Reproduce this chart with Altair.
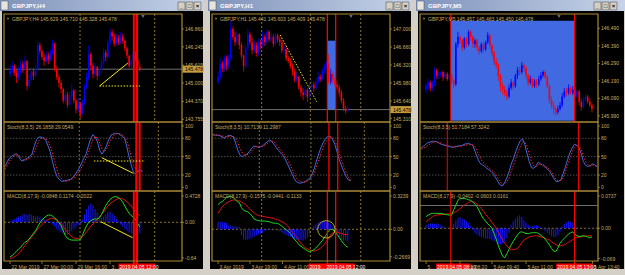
import altair as alt
import pandas as pd

# ---------------- DATA ----------------
# Window 1 : GBPJPY,H4
h4_open0 = 145.30
h4_close = [145.45, 145.60, 145.35, 145.20, 145.40, 145.65, 145.50, 145.75, 144.90, 145.10,
            145.40, 145.25, 145.50, 146.30, 146.10, 145.90, 145.75, 145.95, 145.80, 146.00,
            146.35, 145.50, 145.20, 145.00, 144.80, 144.40, 144.60, 144.25, 144.55, 144.75,
            144.40, 144.10, 144.30, 143.95, 144.30, 144.85, 145.20, 146.00, 145.60, 145.30,
            145.55, 145.25, 145.45, 145.70, 146.05, 145.90, 146.40, 146.75, 146.60, 146.35,
            146.55, 146.40, 146.60, 146.45, 146.20, 145.95, 145.60, 145.75, 146.05, 145.80,
            145.55, 145.478]
h4_high = [145.60, 145.75, 145.65, 145.45, 145.55, 145.80, 145.75, 145.95, 145.80, 145.30,
           145.55, 145.50, 145.65, 146.45, 146.40, 146.15, 146.00, 146.10, 146.05, 146.15,
           146.50, 146.40, 145.60, 145.30, 145.10, 144.85, 144.75, 144.70, 144.70, 144.95,
           144.80, 144.45, 144.50, 144.35, 144.45, 144.95, 145.35, 146.30, 146.05, 145.70,
           145.70, 145.60, 145.60, 145.85, 146.20, 146.15, 146.50, 146.88, 146.85, 146.70,
           146.70, 146.65, 146.75, 146.70, 146.50, 146.25, 145.95, 145.85, 146.15, 146.10,
           145.85, 145.65]
h4_low = [145.20, 145.35, 145.25, 145.00, 145.10, 145.30, 145.35, 145.45, 144.75, 144.85,
          145.05, 145.10, 145.20, 145.45, 146.00, 145.80, 145.60, 145.70, 145.65, 145.75,
          145.95, 145.40, 145.10, 144.85, 144.65, 144.30, 144.30, 144.15, 144.20, 144.45,
          144.30, 143.95, 144.00, 143.80, 143.90, 144.25, 144.80, 145.10, 145.45, 145.15,
          145.20, 145.10, 145.20, 145.35, 145.65, 145.75, 145.85, 146.30, 146.45, 146.25,
          146.30, 146.30, 146.35, 146.35, 146.10, 145.85, 145.50, 145.50, 145.70, 145.70,
          145.40, 145.40]
h4_stoch_main = [34, 42, 48, 51, 53, 55, 50, 44, 43, 46, 48, 50, 55, 68, 78, 82, 82, 80, 77, 68,
                 58, 42, 28, 18, 13, 10, 10, 11, 12, 13, 16, 20, 26, 32, 40, 48, 55, 68, 80, 86,
                 82, 74, 60, 54, 60, 68, 78, 85, 87, 88, 88, 86, 83, 80, 66, 50, 36, 24, 22, 27,
                 27, 26.19]
h4_stoch_signal = [30, 36, 43, 48, 51, 53, 53, 49, 45, 44, 46, 48, 51, 58, 67, 76, 80, 81, 79, 75,
                   67, 56, 42, 29, 19, 14, 11, 10, 11, 12, 14, 17, 21, 26, 33, 40, 48, 57, 68, 78,
                   83, 80, 72, 62, 58, 62, 70, 78, 84, 87, 88, 87, 85, 82, 76, 64, 50, 36, 28, 25,
                   26, 29.05]
h4_macd_main = [-0.62, -0.60, -0.56, -0.52, -0.48, -0.45, -0.40, -0.36, -0.34, -0.30,
                -0.25, -0.20, -0.15, -0.08, -0.01, 0.04, 0.08, 0.11, 0.13, 0.13,
                0.11, 0.08, 0.04, -0.01, -0.06, -0.15, -0.24, -0.29, -0.31, -0.32,
                -0.32, -0.32, -0.32, -0.31, -0.24, -0.14, -0.06, 0.00, 0.03, 0.05,
                0.06, 0.06, 0.08, 0.14, 0.22, 0.30, 0.36, 0.41, 0.44, 0.46,
                0.46, 0.44, 0.41, 0.36, 0.29, 0.22, 0.16, 0.12, 0.09, 0.05,
                -0.02, -0.0848]
h4_macd_signal = [-0.65, -0.64, -0.62, -0.60, -0.57, -0.52, -0.47, -0.42, -0.37, -0.32,
                  -0.27, -0.22, -0.17, -0.12, -0.08, -0.04, 0.00, 0.03, 0.05, 0.07,
                  0.07, 0.06, 0.04, 0.01, -0.03, -0.08, -0.13, -0.18, -0.22, -0.26,
                  -0.28, -0.29, -0.29, -0.28, -0.26, -0.22, -0.17, -0.12, -0.07, -0.03,
                  0.01, 0.05, 0.09, 0.14, 0.19, 0.24, 0.29, 0.33, 0.36, 0.39,
                  0.41, 0.43, 0.43, 0.42, 0.40, 0.37, 0.33, 0.29, 0.24, 0.20,
                  0.15, 0.1174]
h4_macd_hist = [0.02, 0.04, 0.06, 0.08, 0.10, 0.11, 0.14, 0.15, 0.13, 0.15,
                0.14, 0.12, 0.10, 0.12, 0.09, 0.07, 0.05, 0.04, 0.02, 0.01,
                -0.04, -0.08, -0.12, -0.15, -0.18, -0.20, -0.22, -0.23, -0.20, -0.16,
                -0.12, -0.08, -0.05, -0.02, 0.05, 0.14, 0.24, 0.30, 0.34, 0.30,
                0.24, 0.18, 0.12, 0.08, 0.10, 0.14, 0.18, 0.19, 0.16, 0.12,
                0.06, 0.02, -0.04, -0.08, -0.12, -0.15, -0.18, -0.20, -0.22, -0.24,
                -0.22, -0.2022]

# Window 2 : GBPJPY,H1
h1_open0 = 146.00
h1_close = [146.10, 146.35, 146.25, 146.45, 146.30, 146.45, 147.00, 146.85, 146.75, 146.90,
            146.70, 146.50, 146.30, 146.65, 146.90, 146.75, 146.60, 146.70, 146.55, 146.75,
            146.70, 146.85, 146.75, 146.95, 146.80, 146.85, 146.72, 146.88, 146.80, 146.75,
            146.60, 146.62, 146.45, 146.40, 146.30, 146.20, 146.05, 146.10, 145.90, 145.80,
            145.75, 145.85, 145.72, 145.90, 145.95, 145.88, 146.00, 146.10, 146.05, 146.20,
            146.30, 146.35, 146.00, 146.15, 146.05, 145.95, 145.90, 145.80, 145.65, 145.50,
            145.45, 145.478]
h1_high = [146.20, 146.45, 146.40, 146.50, 146.50, 146.52, 147.17, 147.05, 146.95, 146.96,
           146.92, 146.75, 146.52, 146.70, 147.00, 146.95, 146.82, 146.78, 146.75, 146.82,
           146.80, 146.95, 146.90, 147.00, 146.98, 146.92, 146.90, 146.93, 146.92, 146.86,
           146.80, 146.70, 146.67, 146.50, 146.45, 146.35, 146.25, 146.18, 146.12, 145.95,
           145.88, 145.92, 145.88, 145.98, 146.04, 146.00, 146.06, 146.20, 146.15, 146.26,
           146.35, 146.40, 146.52, 146.25, 146.20, 146.08, 146.02, 145.95, 145.85, 145.70,
           145.55, 145.55]
h1_low = [145.95, 146.05, 146.18, 146.20, 146.22, 146.25, 146.40, 146.80, 146.68, 146.70,
          146.62, 146.45, 146.20, 146.25, 146.60, 146.70, 146.52, 146.55, 146.48, 146.50,
          146.62, 146.65, 146.68, 146.70, 146.75, 146.74, 146.66, 146.70, 146.74, 146.68,
          146.55, 146.52, 146.40, 146.35, 146.25, 146.12, 146.00, 146.00, 145.85, 145.72,
          145.66, 145.70, 145.62, 145.70, 145.85, 145.82, 145.85, 145.96, 146.00, 146.02,
          146.15, 146.25, 145.95, 145.95, 145.98, 145.90, 145.85, 145.72, 145.60, 145.45,
          145.40, 145.42]
h1_stoch_main = [86, 85, 85, 84, 82, 80, 83, 85, 84, 82, 72, 60, 52, 50, 52, 54, 58, 63, 67, 67,
                 65, 66, 68, 71, 74, 77, 75, 70, 65, 60, 56, 52, 46, 38, 30, 22, 14, 9, 7, 7,
                 8, 10, 12, 16, 22, 32, 45, 56, 66, 74, 80, 83, 83, 78, 70, 58, 45, 35, 26, 18,
                 12, 10.71]
h1_stoch_signal = [85, 86, 85, 85, 84, 82, 82, 83, 84, 83, 79, 72, 63, 56, 53, 53, 55, 59, 63, 66,
                   67, 66, 67, 69, 71, 74, 76, 74, 70, 65, 60, 56, 51, 45, 38, 30, 22, 15, 11, 9,
                   8, 9, 11, 14, 18, 25, 35, 46, 57, 66, 74, 79, 82, 81, 76, 67, 55, 44, 34, 25,
                   17, 11.30]
h1_macd_main = [0.24, 0.26, 0.27, 0.29, 0.31, 0.32, 0.32, 0.31, 0.29, 0.27,
                0.26, 0.21, 0.185, 0.175, 0.17, 0.15, 0.13, 0.10, 0.09, 0.085,
                0.08, 0.08, 0.08, 0.078, 0.074, 0.066, 0.06, 0.058, 0.058, 0.045,
                0.03, 0.012, -0.005, -0.02, -0.04, -0.07, -0.10, -0.12, -0.15, -0.165,
                -0.18, -0.195, -0.21, -0.217, -0.21, -0.20, -0.18, -0.16, -0.135, -0.11,
                -0.08, -0.05, -0.015, 0.0, -0.005, -0.02, -0.05, -0.08, -0.11, -0.14,
                -0.16, -0.175]
h1_macd_signal = [0.155, 0.19, 0.22, 0.24, 0.255, 0.268, 0.277, 0.284, 0.285, 0.282,
                  0.276, 0.266, 0.252, 0.238, 0.215, 0.195, 0.178, 0.16, 0.142, 0.135,
                  0.13, 0.126, 0.122, 0.118, 0.114, 0.11, 0.107, 0.10, 0.093, 0.084,
                  0.074, 0.062, 0.048, 0.025, 0.0, -0.03, -0.055, -0.08, -0.11, -0.135,
                  -0.16, -0.178, -0.192, -0.201, -0.207, -0.211, -0.207, -0.198, -0.186, -0.168,
                  -0.146, -0.12, -0.085, -0.05, -0.035, -0.025, -0.025, -0.035, -0.04, -0.048,
                  -0.055, -0.0441]
h1_macd_hist = [0.07, 0.075, 0.07, 0.065, 0.06, 0.04, 0.035, 0.03, 0.03, 0.025,
                0.02, -0.06, -0.10, -0.105, -0.10, -0.09, -0.08, -0.07, -0.06, -0.05,
                -0.04, -0.03, -0.015, -0.01, -0.005, -0.008, -0.01, -0.012, -0.015, -0.02,
                -0.03, -0.045, -0.055, -0.065, -0.075, -0.085, -0.095, -0.10, -0.105, -0.11,
                -0.11, -0.10, -0.08, -0.05, 0.01, 0.03, 0.05, 0.065, 0.075, 0.08,
                0.08, 0.075, 0.065, 0.05, 0.03, -0.02, -0.05, -0.08, -0.10, -0.11,
                -0.11, -0.1133]

# Window 3 : GBPJPY,M5
m5_open0 = 146.14
m5_close = [146.16, 146.18, 146.15, 146.17, 146.25, 146.22, 146.22, 146.24, 146.21, 146.23,
            146.20, 146.22, 146.19, 146.17, 146.40, 146.44, 146.42, 146.38, 146.43, 146.40,
            146.47, 146.44, 146.40, 146.42, 146.38, 146.36, 146.40, 146.37, 146.41, 146.45,
            146.39, 146.35, 146.30, 146.28, 146.22, 146.16, 146.14, 146.12, 146.10, 146.15,
            146.18, 146.16, 146.22, 146.25, 146.24, 146.28, 146.26, 146.22, 146.18, 146.20,
            146.16, 146.19, 146.17, 146.20, 146.22, 146.24, 146.21, 146.16, 146.08, 146.05,
            146.03, 146.01, 146.03, 146.05, 146.10, 146.13, 146.12, 146.15, 146.12, 146.14,
            146.10, 146.13, 146.07, 146.04, 146.08, 146.10, 146.07, 146.05, 146.03]
m5_high = [146.18, 146.20, 146.19, 146.19, 146.27, 146.26, 146.24, 146.25, 146.25, 146.24,
           146.24, 146.23, 146.23, 146.20, 146.41, 146.47, 146.45, 146.43, 146.44, 146.44,
           146.48, 146.48, 146.45, 146.43, 146.43, 146.39, 146.41, 146.41, 146.42, 146.47,
           146.46, 146.40, 146.36, 146.32, 146.29, 146.23, 146.18, 146.16, 146.14, 146.17,
           146.20, 146.19, 146.23, 146.27, 146.27, 146.30, 146.29, 146.27, 146.23, 146.22,
           146.21, 146.20, 146.20, 146.22, 146.24, 146.25, 146.25, 146.22, 146.17, 146.10,
           146.07, 146.04, 146.05, 146.07, 146.12, 146.15, 146.15, 146.17, 146.16, 146.16,
           146.15, 146.14, 146.14, 146.09, 146.10, 146.12, 146.11, 146.09, 146.06]
m5_low = [146.12, 146.14, 146.13, 146.13, 146.16, 146.20, 146.20, 146.21, 146.19, 146.20,
          146.19, 146.19, 146.17, 146.15, 146.16, 146.38, 146.40, 146.36, 146.37, 146.38,
          146.39, 146.42, 146.38, 146.38, 146.36, 146.34, 146.35, 146.35, 146.36, 146.40,
          146.37, 146.33, 146.28, 146.26, 146.19, 146.13, 146.11, 146.10, 146.08, 146.09,
          146.14, 146.14, 146.15, 146.20, 146.22, 146.23, 146.24, 146.20, 146.16, 146.17,
          146.15, 146.15, 146.15, 146.16, 146.19, 146.21, 146.20, 146.15, 146.06, 146.03,
          146.00, 145.99, 146.00, 146.02, 146.04, 146.09, 146.10, 146.11, 146.11, 146.11,
          146.09, 146.09, 146.05, 146.02, 146.03, 146.07, 146.06, 146.04, 146.01]
m5_stoch_main = [64, 67, 70, 73, 74, 75, 75, 74, 72, 70, 69, 68, 67, 66, 65, 66, 67, 68, 68, 70,
                 71, 72, 70, 68, 58, 48, 40, 37, 35, 31, 29, 26, 22, 16, 10, 4, 2, 7, 15, 25,
                 38, 47, 58, 68, 76, 79, 70, 55, 42, 32, 31, 35, 41, 38, 36, 33, 30, 26, 20, 14,
                 9, 10, 12, 22, 33, 45, 56, 64, 70, 69, 65, 55, 42, 36, 34, 35, 38, 37, 33]
m5_stoch_signal = [62, 64, 66, 69, 71, 73, 74, 74, 73, 72, 70, 69, 68, 67, 66, 66, 66, 67, 67, 68,
                   69, 70, 70, 69, 65, 58, 50, 43, 39, 35, 32, 29, 26, 21, 15, 9, 5, 5, 9, 16,
                   26, 36, 47, 57, 66, 74, 74, 66, 54, 42, 35, 33, 37, 38, 37, 35, 32, 29, 24, 18,
                   12, 10, 11, 16, 25, 36, 47, 57, 65, 69, 68, 62, 51, 42, 37, 35, 36, 37, 35]
m5_macd_main = [0.027, 0.030, 0.033, 0.034, 0.034, 0.034, 0.034, 0.034, 0.033, 0.032,
                0.031, 0.030, 0.030, 0.042, 0.053, 0.064, 0.068, 0.068, 0.068, 0.067,
                0.065, 0.064, 0.060, 0.055, 0.049, 0.040, 0.030, 0.022, 0.016, 0.010,
                0.006, 0.000, -0.012, -0.025, -0.040, -0.052, -0.064, -0.067, -0.058, -0.048,
                -0.038, -0.030, -0.022, -0.015, -0.009, -0.008, -0.010, -0.012, -0.012, -0.011,
                -0.010, -0.010, -0.010, -0.012, -0.016, -0.019, -0.025, -0.031, -0.038, -0.046,
                -0.052, -0.053, -0.045, -0.034, -0.028, -0.023, -0.018, -0.013, -0.010, -0.008,
                -0.014, -0.017, -0.019, -0.018, -0.017, -0.018, -0.020, -0.021, -0.020]
m5_macd_signal = [0.015, 0.019, 0.023, 0.027, 0.029, 0.030, 0.031, 0.031, 0.032, 0.032,
                  0.033, 0.033, 0.034, 0.036, 0.038, 0.041, 0.045, 0.049, 0.053, 0.056,
                  0.059, 0.062, 0.061, 0.059, 0.055, 0.050, 0.045, 0.039, 0.032, 0.026,
                  0.020, 0.013, 0.007, 0.000, -0.010, -0.018, -0.027, -0.034, -0.040, -0.045,
                  -0.049, -0.049, -0.048, -0.046, -0.040, -0.033, -0.027, -0.024, -0.021, -0.019,
                  -0.018, -0.017, -0.017, -0.018, -0.020, -0.021, -0.023, -0.025, -0.027, -0.031,
                  -0.034, -0.037, -0.040, -0.040, -0.039, -0.038, -0.035, -0.032, -0.029, -0.026,
                  -0.023, -0.021, -0.020, -0.019, -0.018, -0.018, -0.017, -0.017, -0.017]
m5_macd_hist = [0.008, 0.010, 0.011, 0.011, 0.010, 0.011, 0.009, 0.008, 0.006, 0.003,
                0.001, -0.003, -0.002, 0.010, 0.018, 0.024, 0.025, 0.022, 0.020, 0.016,
                0.012, 0.006, -0.004, -0.010, -0.014, -0.018, -0.020, -0.022, -0.024, -0.024,
                -0.025, -0.026, -0.029, -0.032, -0.036, -0.037, -0.035, -0.030, -0.022, -0.010,
                0.008, 0.016, 0.022, 0.027, 0.030, 0.026, 0.018, 0.012, 0.008, 0.004,
                0.004, 0.006, 0.007, 0.005, 0.002, -0.002, -0.006, -0.010, -0.014, -0.018,
                -0.020, -0.020, -0.016, -0.008, 0.004, 0.010, 0.014, 0.016, 0.015, 0.012,
                0.006, 0.002, 0.001, 0.000, 0.001, 0.000, -0.001, -0.002, -0.001]

# Axis label values
h4_price_ticks = [143.755, 144.370, 145.000, 145.615, 146.245, 146.860]
h1_price_ticks = [145.310, 145.640, 145.980, 146.320, 146.660, 147.000]
m5_price_ticks = [145.990, 146.090, 146.190, 146.290, 146.390, 146.490]
stoch_ticks = [0, 20, 50, 80, 100]
stoch_levels = [20, 50, 80]
h4_macd_ticks = [0.4728, 0.0, -0.64]
h1_macd_ticks = [0.3239, 0.0, -0.2669]
m5_macd_ticks = [0.0737, 0.0, -0.069]

# Time labels (bar index, text, visible width limit in px or 0 for none)
h4_time_idx = [0, 15, 31, 47]
h4_time_txt = ["22 Mar 2019", "27 Mar 00:00", "29 Mar 16:00", "3 Apr 08:00"]
h4_time_lim = [0, 0, 0, 8]
h1_time_idx = [0, 15, 30.3]
h1_time_txt = ["3 Apr 2019", "3 Apr 19:00", "4 Apr 11:00"]
h1_time_lim = [0, 0, 26]
m5_time_idx = [0, 16, 31, 47, 78.3]
m5_time_txt = ["5 Apr 07:00", "5 Apr 08:20", "5 Apr 09:40", "5 Apr 11:00", "5 Apr 13:40"]
m5_time_lim = [9, 0, 0, 0, 0]

BID = 145.478

# ---------------- STYLE ----------------
FONT = "Liberation Sans"
GREY_BG = "#d4d0c8"
GOLD = "#a88a36"
TXT = "#c8ac64"
SEP = "#b09030"
LVL = "#5e5e5e"
BULL = "#0000ff"
BEAR = "#ff0000"
ST_MAIN = "#4169e1"
ST_SIG = "#ff2020"
M_MAIN = "#1ed81e"
M_SIG = "#e01010"
M_HIST = "#1414f0"
YEL = "#f2e81a"
RBLUE = "#4169e1"
FS = 5

W, HP, HS, HM = 178, 108, 69, 70
XDOM = [-0.5, 78.5]
ONE = pd.DataFrame({"k": [0]})


def X(f="i"):
    return alt.X(f"{f}:Q", scale=alt.Scale(domain=XDOM, nice=False, zero=False), axis=None)


def Y(f, dom):
    return alt.Y(f"{f}:Q", scale=alt.Scale(domain=dom, nice=False, zero=False), axis=None)


def rect(x1, x2, y1, y2, **mk):
    return alt.Chart(ONE).mark_rect(**mk).encode(
        x=alt.value(x1), x2=alt.value(x2), y=alt.value(y1), y2=alt.value(y2))


def label(txt, x, y, **mk):
    base = dict(align="left", baseline="middle", font=FONT, fontSize=FS, color=TXT)
    base.update(mk)
    return alt.Chart(ONE).mark_text(text=txt, **base).encode(x=alt.value(x), y=alt.value(y))


def vrules(idx, dom, h, **mk):
    df = pd.DataFrame({"i": idx})
    return alt.Chart(df).mark_rule(**mk).encode(x=X(), y=alt.value(0), y2=alt.value(h))


def hrules(vals, dom, **mk):
    df = pd.DataFrame({"v": vals})
    return alt.Chart(df).mark_rule(**mk).encode(y=Y("v", dom), x=alt.value(0), x2=alt.value(W))


def yaxis_labels(vals, txts, dom):
    df = pd.DataFrame({"v": vals, "t": txts})
    ticks = alt.Chart(df).mark_rule(color=GOLD, strokeWidth=0.8).encode(
        y=Y("v", dom), x=alt.value(W), x2=alt.value(W + 2))
    txt = alt.Chart(df).mark_text(align="left", baseline="middle", font=FONT, fontSize=FS,
                                  color=TXT).encode(y=Y("v", dom), x=alt.value(W + 3), text="t:N")
    return [ticks, txt]


def segs(points, dom, **mk):
    rows = []
    for s, pts in enumerate(points):
        for (i, v) in pts:
            rows.append({"s": s, "i": i, "v": v})
    df = pd.DataFrame(rows)
    return alt.Chart(df).mark_line(**mk).encode(x=X(), y=Y("v", dom), detail="s:N", order="i:Q")


def window(cfg, last=False):
    rx = W + (27 if last else 22)
    n = len(cfg["close"])
    assert len(cfg["high"]) == n and len(cfg["low"]) == n
    opens = [cfg["open0"]] + cfg["close"][:-1]
    df = pd.DataFrame({"i": list(range(n)), "o": opens, "h": cfg["high"],
                       "l": cfg["low"], "c": cfg["close"]})
    df["d"] = ["up" if c >= o else "down" for o, c in zip(df["o"], df["c"])]
    pdom = cfg["pdom"]
    col = alt.Color("d:N", scale=alt.Scale(domain=["up", "down"], range=[BULL, BEAR]), legend=None)

    L = []
    # window chrome
    L.append(rect(-4, rx, -14, -3, fill=alt.Gradient(
        gradient="linear", x1=0, x2=1, y1=0, y2=0,
        stops=[alt.GradientStop(color="#7f93ba", offset=0),
               alt.GradientStop(color="#c6d3e8", offset=1)])))
    L.append(rect(-3, 4, -13, -4, fill="#e8e4d8", stroke="#405070", strokeWidth=0.5))
    L.append(label(cfg["title"], 8, -8.5, color="#ffffff", fontSize=6, fontWeight="bold"))
    for k, g in enumerate(["_", "\u25a1", "\u00d7"]):
        bx = W - 4 + k * 8
        L.append(rect(bx, bx + 7, -12, -4, fill="#d4d0c8", stroke="#404040", strokeWidth=0.5))
        L.append(label(g, bx + 3.5, -8, align="center", color="#000000", fontSize=6,
                       fontWeight="bold"))
    L.append(rect(-2, rx - 1, -3, HP + HS + HM + 8, fill="#000000"))

    # blue rectangle object
    if cfg.get("brect"):
        a, b, y1, y2 = cfg["brect"]
        bdf = pd.DataFrame({"a": [a], "b": [b], "y1": [y1], "y2": [y2]})
        L.append(alt.Chart(bdf).mark_rect(color=RBLUE).encode(
            x=X("a"), x2="b:Q", y=Y("y1", pdom), y2="y2:Q"))
    if cfg["seps"]:
        L.append(vrules(cfg["seps"], pdom, HP, color=SEP, strokeDash=[2, 2], strokeWidth=0.8))
    L.append(hrules([BID], pdom, color="#8a8a8a", strokeWidth=0.8))
    L.append(alt.Chart(df).mark_rule(strokeWidth=0.8).encode(
        x=X(), y=Y("l", pdom), y2="h:Q", color=col))
    L.append(alt.Chart(df).mark_bar(size=1.6).encode(
        x=X(), y=Y("o", pdom), y2="c:Q", color=col))
    L.append(vrules(cfg["vlines"], pdom, HP, color="#ff0000", strokeWidth=cfg["vw"]))
    for pts, dash in cfg.get("pyel", []):
        mk = dict(color=YEL, strokeWidth=1)
        if dash:
            mk["strokeDash"] = [1.5, 1.5]
        L.append(segs([pts], pdom, **mk))
    L.append(alt.Chart(ONE).mark_point(shape="triangle-down", filled=True, size=10,
                                       color=GOLD).encode(x=alt.value(4), y=alt.value(5)))
    L.append(label(cfg["phead"], 8, 5))
    L.append(alt.Chart(pd.DataFrame({"i": [62.5]})).mark_point(
        shape="triangle-down", filled=True, size=12, color="#9a9a9a").encode(
        x=X(), y=alt.value(2.5)))
    L += yaxis_labels(cfg["pticks"], [f"{v:.3f}" for v in cfg["pticks"]], pdom)
    if pdom[0] < BID < pdom[1]:
        bdf = pd.DataFrame({"v": [BID], "t": [f"{BID:.3f}"]})
        L.append(alt.Chart(bdf).mark_tick(thickness=7, size=21, color="#c89c3c", opacity=1).encode(
            y=Y("v", pdom), x=alt.value(W + 11)))
        L.append(alt.Chart(bdf).mark_text(align="left", baseline="middle", font=FONT,
                                          fontSize=FS, color="#000000").encode(
            y=Y("v", pdom), x=alt.value(W + 3), text="t:N"))
    L.append(rect(0, W, 0, HP, fill=None, stroke=GOLD, strokeWidth=1.2))
    price = alt.layer(*L).properties(width=W, height=HP)

    # ---------- stochastic ----------
    sdom = [-6, 106.5]
    S = []
    sdf = pd.DataFrame({"i": list(range(n)), "m": cfg["st_main"], "s": cfg["st_sig"]})
    S.append(hrules(stoch_levels, sdom, color=LVL, strokeDash=[1.5, 1.5], strokeWidth=0.8))
    if cfg["seps"]:
        S.append(vrules(cfg["seps"], sdom, HS, color=SEP, strokeDash=[2, 2], strokeWidth=0.8))
    S.append(alt.Chart(sdf).mark_line(color=ST_MAIN, strokeWidth=1).encode(x=X(), y=Y("m", sdom)))
    S.append(alt.Chart(sdf).mark_line(color=ST_SIG, strokeWidth=1, strokeDash=[1.5, 1.5]).encode(
        x=X(), y=Y("s", sdom)))
    S.append(vrules(cfg["vlines"], sdom, HS, color="#ff0000", strokeWidth=cfg["vw"]))
    for pts, dash in cfg.get("syel", []):
        mk = dict(color=YEL, strokeWidth=1)
        if dash:
            mk["strokeDash"] = [1.5, 1.5]
        S.append(segs([pts], sdom, **mk))
    S.append(label(cfg["shead"], 3, 5))
    S += yaxis_labels(stoch_ticks, [str(v) for v in stoch_ticks], sdom)
    S.append(rect(0, W, 0, HS, fill=None, stroke=GOLD, strokeWidth=1.2))
    stoch = alt.layer(*S).properties(width=W, height=HS)

    # ---------- MACD ----------
    mdom = cfg["mdom"]
    M = []
    mdf = pd.DataFrame({"i": list(range(n)), "m": cfg["m_main"], "s": cfg["m_sig"],
                        "h": cfg["m_hist"], "z": [0.0] * n})
    if cfg["seps"]:
        M.append(vrules(cfg["seps"], mdom, HM, color=SEP, strokeDash=[2, 2], strokeWidth=0.8))
    M.append(hrules([0.0], mdom, color=SEP, strokeDash=[2, 2], strokeWidth=0.8))
    M.append(alt.Chart(mdf).mark_bar(size=1.1, color=M_HIST).encode(x=X(), y=Y("h", mdom), y2="z:Q"))
    M.append(alt.Chart(mdf).mark_line(color=M_SIG, strokeWidth=1).encode(x=X(), y=Y("s", mdom)))
    M.append(alt.Chart(mdf).mark_line(color=M_MAIN, strokeWidth=1).encode(x=X(), y=Y("m", mdom)))
    M.append(vrules(cfg["vlines"], mdom, HM + 8, color="#ff0000", strokeWidth=cfg["vw"]))
    for pts, dash in cfg.get("myel", []):
        M.append(segs([pts], mdom, color=YEL, strokeWidth=1))
    if cfg.get("circle"):
        ci, cv = cfg["circle"]
        M.append(alt.Chart(pd.DataFrame({"i": [ci], "v": [cv]})).mark_point(
            shape="circle", filled=False, size=300, color=YEL, strokeWidth=1).encode(
            x=X(), y=Y("v", mdom)))
    M.append(label(cfg["mhead"], 3, 5))
    M += yaxis_labels(cfg["mticks"], ["0.00" if v == 0 else str(v) for v in cfg["mticks"]], mdom)
    # time axis
    tdf = pd.DataFrame({"i": cfg["t_idx"], "t": cfg["t_txt"]})
    M.append(alt.Chart(tdf).mark_rule(color=GOLD, strokeWidth=0.8).encode(
        x=X(), y=alt.value(HM), y2=alt.value(HM + 3)))
    for k in range(len(tdf)):
        mk = dict(align="left", baseline="middle", font=FONT, fontSize=FS, color=TXT, dx=1.5)
        if cfg["t_lim"][k]:
            mk.update(limit=cfg["t_lim"][k], ellipsis="")
        M.append(alt.Chart(tdf.iloc[[k]]).mark_text(**mk).encode(
            x=X(), y=alt.value(HM + 5.5), text="t:N"))
    for (a, b, t, lim) in cfg["boxes"]:
        one = pd.DataFrame({"a": [a], "b": [b], "t": [t]})
        M.append(alt.Chart(one).mark_rect(color="#ff0000").encode(
            x=X("a"), x2="b:Q", y=alt.value(HM + 2.5), y2=alt.value(HM + 8.5)))
        mk = dict(align="left", baseline="middle", font=FONT, fontSize=FS, color="#ffffff", dx=1)
        if lim:
            mk.update(limit=lim, ellipsis="")
        M.append(alt.Chart(one).mark_text(**mk).encode(
            x=X("a"), y=alt.value(HM + 5.6), text="t:N"))
    M.append(rect(0, W, 0, HM, fill=None, stroke=GOLD, strokeWidth=1.2))
    M.append(rect(-4, rx, HM + 8, HM + 14, fill=GREY_BG))
    macd = alt.layer(*M).properties(width=W, height=HM)
    return price, stoch, macd


w1 = dict(title="GBPJPY,H4", open0=h4_open0, close=h4_close, high=h4_high, low=h4_low,
          pdom=[143.662, 147.376], pticks=h4_price_ticks,
          phead="GBPJPY,H4  145.629 145.710 145.328 145.478",
          seps=[32.9, 68.0], vlines=[58.2, 59.7], vw=2,
          pyel=[([(42.1, 144.90), (55.4, 145.69)], False), ([(42.1, 144.90), (61.2, 144.90)], True)],
          st_main=h4_stoch_main, st_sig=h4_stoch_signal,
          syel=[([(42.9, 48.3), (56.9, 22.8)], False), ([(39.4, 42.9), (62.1, 42.9)], True)],
          shead="Stoch(8,3,5) 26.1858 29.0549",
          mdom=[-0.696, 0.563], mticks=h4_macd_ticks, m_main=h4_macd_main, m_sig=h4_macd_signal,
          m_hist=h4_macd_hist, myel=[([(42.6, 0.011), (57.6, -0.277)], False)],
          mhead="MACD(8,17,9) -0.0848 0.1174 -0.2022",
          t_idx=h4_time_idx, t_txt=h4_time_txt, t_lim=h4_time_lim,
          boxes=[(51.0, 68.3, "2019.04.05 12:00", 0)])

w2 = dict(title="GBPJPY,H1", open0=h1_open0, close=h1_close, high=h1_high, low=h1_low,
          pdom=[145.244, 147.284], pticks=h1_price_ticks,
          phead="GBPJPY,H1  145.441 145.603 145.409 145.478",
          seps=[20.5, 43.4, 67.1], vlines=[51.4, 55.3], vw=1.3,
          brect=(51.4, 55.3, 145.478, 146.78),
          pyel=[([(29.2, 146.887), (46.4, 145.626)], True)],
          st_main=h1_stoch_main, st_sig=h1_stoch_signal, syel=[],
          shead="Stoch(8,3,5) 10.7139 11.2987",
          mdom=[-0.308, 0.372], mticks=h1_macd_ticks, m_main=h1_macd_main, m_sig=h1_macd_signal,
          m_hist=h1_macd_hist, circle=(50.9, 0.0),
          mhead="MACD(8,17,9) -0.1575 -0.0441 -0.1133",
          t_idx=h1_time_idx, t_txt=h1_time_txt, t_lim=h1_time_lim,
          boxes=[(42.5, 60.7, "2019.04.05 08:00", 17), (50.5, 64.3, "2019.04.05 12:00", 0)])

w3 = dict(title="GBPJPY,M5", open0=m5_open0, close=m5_close, high=m5_high, low=m5_low,
          pdom=[145.955, 146.572], pticks=m5_price_ticks,
          phead="GBPJPY,M5  145.457 145.483 145.450 145.478",
          seps=[], vlines=[11.6, 69.8], vw=1,
          brect=(11.6, 69.8, 145.962, 146.533),
          st_main=m5_stoch_main, st_sig=m5_stoch_signal, syel=[],
          shead="Stoch(8,3,5) 51.7184 57.3242",
          mdom=[-0.0747, 0.0852], mticks=m5_macd_ticks, m_main=m5_macd_main, m_sig=m5_macd_signal,
          m_hist=m5_macd_hist,
          mhead="MACD(8,17,9) -0.0402 -0.0603 0.0161",
          t_idx=m5_time_idx, t_txt=m5_time_txt, t_lim=m5_time_lim,
          boxes=[(4.7, 20.9, "2019.04.05 08:10", 0), (61.2, 78.4, "2019.04.05 13:00", 0)])

p1, s1, m1 = window(w1)
p2, s2, m2 = window(w2)
p3, s3, m3 = window(w3, last=True)

chart = alt.concat(p1, p2, p3, s1, s2, s3, m1, m2, m3, columns=3,
                   spacing={"row": 0, "column": 30}, bounds="flush").properties(
    padding={"left": 0, "top": 0, "right": 0, "bottom": 0},
    background=GREY_BG,
).configure_view(stroke=None, fill=None)

chart.save("out.html", embed_options={"renderer": "svg", "actions": False})
